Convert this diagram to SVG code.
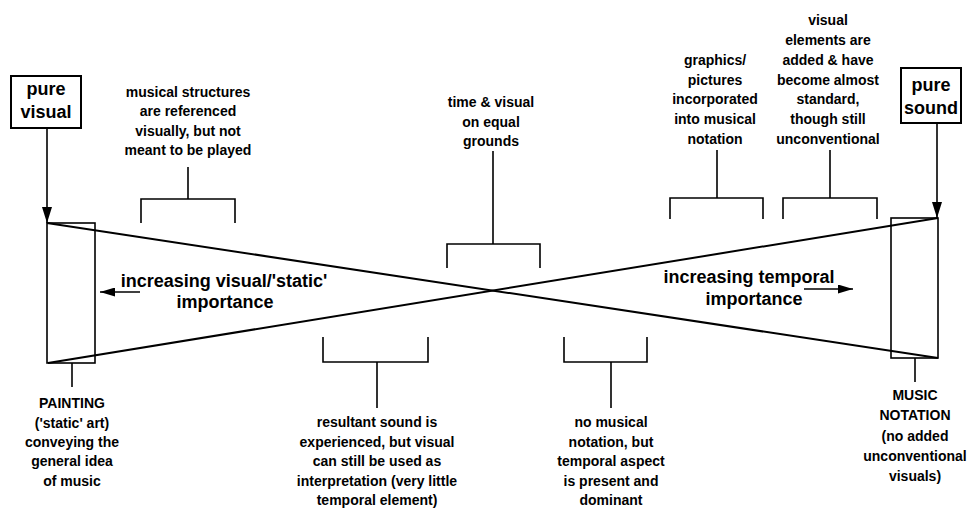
<svg xmlns="http://www.w3.org/2000/svg" width="971" height="511" viewBox="0 0 971 511">
<style>
text{font-family:"Liberation Sans",Arial,sans-serif;font-weight:bold;fill:#000;text-anchor:middle}
.s{font-size:14px}
.b{font-size:18px}
.m{font-size:18px}
.ln{stroke:#000;stroke-width:1.6;fill:none}
.th{stroke:#000;stroke-width:2;fill:none}
.box{stroke:#000;stroke-width:2;fill:#fff}
</style>
<defs>
<marker id="ah" markerUnits="userSpaceOnUse" markerWidth="16" markerHeight="10" refX="16" refY="5" orient="auto">
<path d="M0,0 L16,5 L0,10 z" fill="#000"/>
</marker>
<marker id="ah2" markerUnits="userSpaceOnUse" markerWidth="15" markerHeight="9" refX="15" refY="4.5" orient="auto">
<path d="M0,0 L15,4.5 L0,9 z" fill="#000"/>
</marker>
</defs>
<rect width="971" height="511" fill="#fff"/>

<g id="connectors">
<line class="ln" x1="47" y1="128" x2="47" y2="223" marker-end="url(#ah)"/>
<line class="ln" x1="937" y1="123" x2="937" y2="218" marker-end="url(#ah)"/>
<line class="th" x1="47" y1="223" x2="938" y2="358"/>
<line class="th" x1="48" y1="363" x2="938" y2="218"/>
<line class="ln" x1="140" y1="292" x2="100" y2="292" marker-end="url(#ah2)"/>
<line class="ln" x1="804" y1="289" x2="853" y2="289" marker-end="url(#ah2)"/>
<!-- top brackets -->
<path class="ln" d="M141,223 V199 H235 V223 M188,199 V167"/>
<path class="ln" d="M447,268 V244 H540 V268 M493,244 V151"/>
<path class="ln" d="M670,219 V198 H763 V219 M717,198 V150"/>
<path class="ln" d="M783,219 V198 H877 V219 M830,198 V150"/>
<!-- bottom brackets -->
<path class="ln" d="M323,337 V362 H428 V337 M377,362 V408"/>
<path class="ln" d="M564,337 V362 H647 V337 M611,362 V408"/>
<!-- end stems -->
<line class="ln" x1="72" y1="363" x2="72" y2="387"/>
<line class="ln" x1="915" y1="358" x2="915" y2="382"/>
</g>

<g id="pure-visual">
<rect class="box" x="11" y="76" width="70" height="52"/>
<text class="b" x="46" y="95">pure</text>
<text class="b" x="46" y="118">visual</text>
</g>

<g id="pure-sound">
<rect class="box" x="901" y="68" width="60" height="55"/>
<text class="b" x="931" y="91">pure</text>
<text class="b" x="931" y="114">sound</text>
</g>

<g id="painting">
<rect class="ln" x="47" y="223" width="48" height="140"/>
<text class="s" x="72" y="408">PAINTING</text>
<text class="s" x="72" y="428">('static' art)</text>
<text class="s" x="72" y="447">conveying the</text>
<text class="s" x="72" y="466">general idea</text>
<text class="s" x="72" y="486">of music</text>
</g>

<g id="music-notation">
<rect class="ln" x="891" y="218" width="47" height="140"/>
<text class="s" x="915" y="400">MUSIC</text>
<text class="s" x="915" y="420">NOTATION</text>
<text class="s" x="915" y="441">(no added</text>
<text class="s" x="915" y="461">unconventional</text>
<text class="s" x="915" y="481">visuals)</text>
</g>

<g id="musical-structures">
<text class="s" x="188" y="97">musical structures</text>
<text class="s" x="188" y="116">are referenced</text>
<text class="s" x="188" y="136">visually, but not</text>
<text class="s" x="188" y="155">meant to be played</text>
</g>

<g id="time-visual">
<text class="s" x="491" y="107">time &amp; visual</text>
<text class="s" x="491" y="127">on equal</text>
<text class="s" x="491" y="146">grounds</text>
</g>

<g id="graphics">
<text class="s" x="715" y="65">graphics/</text>
<text class="s" x="715" y="85">pictures</text>
<text class="s" x="715" y="104">incorporated</text>
<text class="s" x="715" y="124">into musical</text>
<text class="s" x="715" y="144">notation</text>
</g>

<g id="visual-elements">
<text class="s" x="828" y="25">visual</text>
<text class="s" x="828" y="45">elements are</text>
<text class="s" x="828" y="65">added &amp; have</text>
<text class="s" x="828" y="85">become almost</text>
<text class="s" x="828" y="104">standard,</text>
<text class="s" x="828" y="124">though still</text>
<text class="s" x="828" y="144">unconventional</text>
</g>

<g id="resultant-sound">
<text class="s" x="377" y="427">resultant sound is</text>
<text class="s" x="377" y="447">experienced, but visual</text>
<text class="s" x="377" y="466">can still be used as</text>
<text class="s" x="377" y="486">interpretation (very little</text>
<text class="s" x="377" y="505">temporal element)</text>
</g>

<g id="no-notation">
<text class="s" x="611" y="427">no musical</text>
<text class="s" x="611" y="447">notation, but</text>
<text class="s" x="611" y="466">temporal aspect</text>
<text class="s" x="611" y="486">is present and</text>
<text class="s" x="611" y="505">dominant</text>
</g>

<g id="visual-importance">
<text class="m" x="224" y="287">increasing visual/'static'</text>
<text class="m" x="225" y="308">importance</text>
</g>

<g id="temporal-importance">
<text class="m" x="749" y="283">increasing temporal</text>
<text class="m" x="754" y="305">importance</text>
</g>
</svg>
